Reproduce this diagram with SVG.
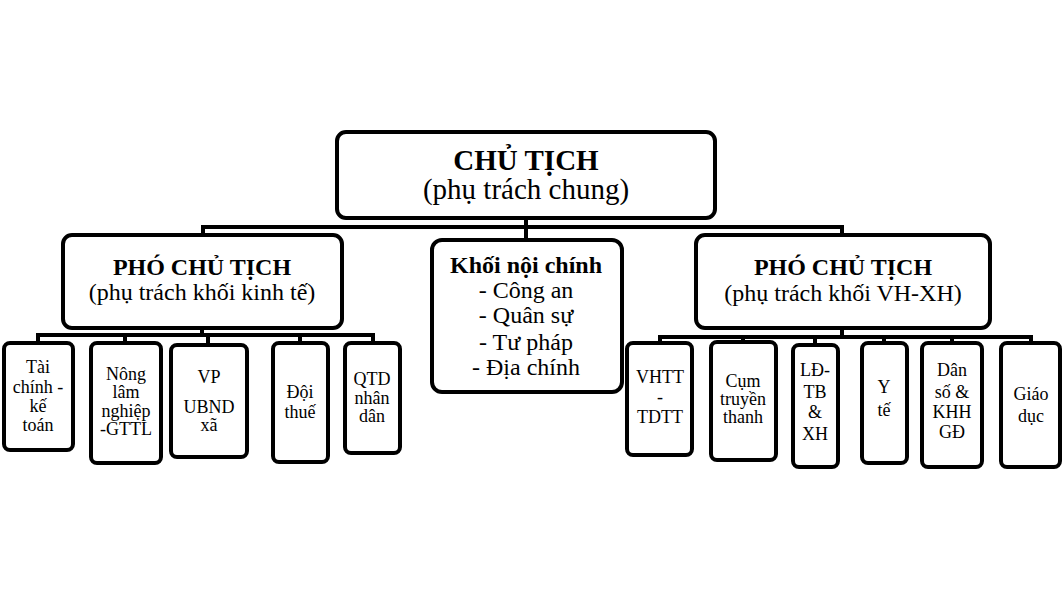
<svg xmlns="http://www.w3.org/2000/svg" width="1064" height="602" viewBox="0 0 1064 602">
<style>
.b{fill:#fff;stroke:#000;stroke-width:4}
.c{fill:none;stroke:#000;stroke-width:4}
.bd{font-weight:bold}
</style>
<rect width="1064" height="602" fill="#fff"/>
<g id="connectors">
<path class="c" d="M526 218V240"/>
<path class="c" d="M203 236V227H842V236"/>
<path class="c" d="M202 328V335M38 343V335H373V343M125 335V343M208 335V345M300 335V343"/>
<path class="c" d="M842 328V337M660 343V337H1031V343M743 337V342M815 337V345M884 337V343M952 337V343"/>
</g>
<g font-family="Liberation Serif" text-anchor="middle" fill="#000">
<g id="chu-tich" font-size="29"><rect class="b" x="337" y="132" width="378" height="86" rx="9"/>
<text class="bd" x="526" y="170">CHỦ TỊCH</text><text x="526" y="199">(phụ trách chung)</text></g>
<g id="pct-kt" font-size="24"><rect class="b" x="63" y="235" width="279" height="93" rx="9"/>
<text class="bd" x="202" y="275">PHÓ CHỦ TỊCH</text><text x="202" y="300">(phụ trách khối kinh tế)</text></g>
<g id="noi-chinh" font-size="24"><rect class="b" x="432" y="240" width="190" height="152" rx="10"/>
<text class="bd" x="526" y="273">Khối nội chính</text>
<text x="526" y="298">- Công an</text><text x="526" y="323">- Quân sự</text><text x="526" y="350">- Tư pháp</text><text x="526" y="375">- Địa chính</text></g>
<g id="pct-vhxh" font-size="24"><rect class="b" x="696" y="235" width="294" height="93" rx="9"/>
<text class="bd" x="843" y="275">PHÓ CHỦ TỊCH</text><text x="843" y="301">(phụ trách khối VH-XH)</text></g>
<g id="tai-chinh" font-size="18"><rect class="b" x="4" y="343" width="69" height="107" rx="6"/>
<text x="38" y="373">Tài</text><text x="38" y="393">chính -</text><text x="38" y="412">kế</text><text x="38" y="431">toán</text></g>
<g id="nong-lam" font-size="18"><rect class="b" x="91" y="343" width="70" height="120" rx="6"/>
<text x="126" y="380">Nông</text><text x="126" y="398">lâm</text><text x="126" y="417">nghiệp</text><text x="126" y="435">-GTTL</text></g>
<g id="vp" font-size="18"><rect class="b" x="171" y="345" width="76" height="112" rx="6"/>
<text x="209" y="383">VP</text><text x="209" y="413">UBND</text><text x="209" y="431">xã</text></g>
<g id="doi-thue" font-size="18"><rect class="b" x="273" y="343" width="55" height="119" rx="6"/>
<text x="300" y="398">Đội</text><text x="300" y="418">thuế</text></g>
<g id="qtd" font-size="18"><rect class="b" x="345" y="343" width="55" height="110" rx="6"/>
<text x="372" y="385">QTD</text><text x="372" y="404">nhân</text><text x="372" y="422">dân</text></g>
<g id="vhtt" font-size="18"><rect class="b" x="627" y="343" width="65" height="112" rx="6"/>
<text x="660" y="383">VHTT</text><text x="660" y="403">-</text><text x="660" y="423">TDTT</text></g>
<g id="cum" font-size="18"><rect class="b" x="711" y="342" width="65" height="118" rx="6"/>
<text x="743" y="387">Cụm</text><text x="743" y="405">truyền</text><text x="743" y="423">thanh</text></g>
<g id="ldtb" font-size="18"><rect class="b" x="793" y="345" width="45" height="122" rx="6"/>
<text x="815" y="376">LĐ-</text><text x="815" y="398">TB</text><text x="815" y="418">&amp;</text><text x="815" y="440">XH</text></g>
<g id="yte" font-size="18"><rect class="b" x="862" y="343" width="45" height="120" rx="6"/>
<text x="884" y="393">Y</text><text x="884" y="416">tế</text></g>
<g id="dan-so" font-size="18"><rect class="b" x="922" y="343" width="60" height="124" rx="6"/>
<text x="952" y="376">Dân</text><text x="952" y="398">số &amp;</text><text x="952" y="418">KHH</text><text x="952" y="438">GĐ</text></g>
<g id="giao-duc" font-size="18"><rect class="b" x="1001" y="343" width="59" height="124" rx="6"/>
<text x="1031" y="400">Giáo</text><text x="1031" y="422">dục</text></g>
</g>
</svg>
